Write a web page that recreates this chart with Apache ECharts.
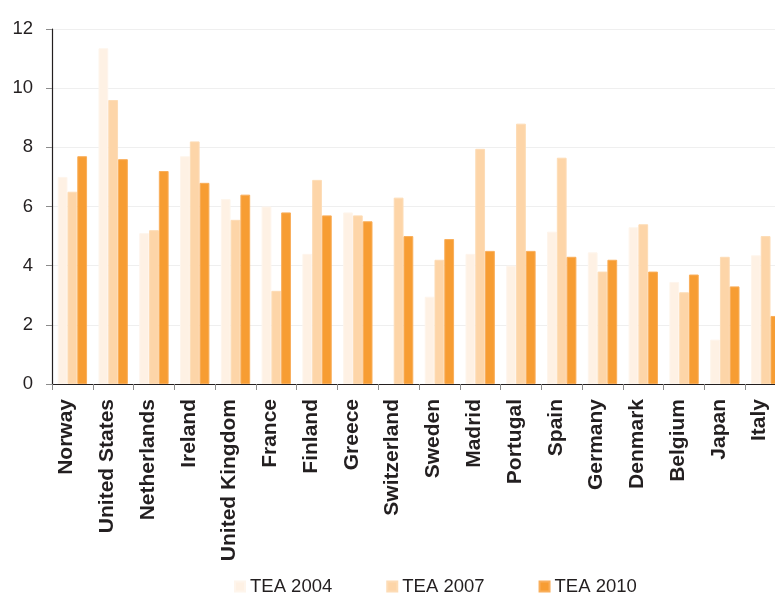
<!DOCTYPE html>
<html>
<head>
<meta charset="utf-8">
<script src="https://cdn.jsdelivr.net/npm/echarts@6/dist/echarts.min.js"></script>
<style>
  html, body { margin: 0; padding: 0; background: #ffffff; }
  #chart { width: 775px; height: 594px; }
</style>
</head>
<body>
<div id="chart"></div>
<script>
// Total early-stage entrepreneurial activity (TEA) rates by country
const countries = ['Norway', 'United States', 'Netherlands', 'Ireland', 'United Kingdom', 'France',
  'Finland', 'Greece', 'Switzerland', 'Sweden', 'Madrid', 'Portugal', 'Spain', 'Germany',
  'Denmark', 'Belgium', 'Japan', 'Italy'];
const tea2004 = [7.0, 11.35, 5.1, 7.7, 6.25, 6.0, 4.4, 5.8, null, 2.95, 4.4, 4.0, 5.15, 4.45, 5.3, 3.45, 1.5, 4.35];
const tea2007 = [6.5, 9.6, 5.2, 8.2, 5.55, 3.15, 6.9, 5.7, 6.3, 4.2, 7.95, 8.8, 7.65, 3.8, 5.4, 3.1, 4.3, 5.0];
const tea2010 = [7.7, 7.6, 7.2, 6.8, 6.4, 5.8, 5.7, 5.5, 5.0, 4.9, 4.5, 4.5, 4.3, 4.2, 3.8, 3.7, 3.3, 2.3];
const yTicks = [0, 2, 4, 6, 8, 10, 12];

const textColor = '#231f20';
const fontFamily = '"Liberation Sans", Arial, Helvetica, sans-serif';

const seriesDefs = [
  { name: 'TEA 2004', data: tea2004, color: '#fef1e4', border: '#fef5ec' },
  { name: 'TEA 2007', data: tea2007, color: '#fdd5a8', border: '#fddcb6' },
  { name: 'TEA 2010', data: tea2010, color: '#f79d33', border: '#f9ae5a' }
];

const chart = echarts.init(document.getElementById('chart'), null, { renderer: 'canvas' });
chart.setOption({
  animation: false,
  backgroundColor: '#ffffff',
  textStyle: { fontFamily: fontFamily, color: textColor },
  // the last category runs past the right edge of the canvas
  grid: { left: 52, top: 29, height: 355, width: 734, containLabel: false, outerBoundsMode: 'none' },
  legend: {
    top: 577,
    left: 234,
    padding: 0,
    icon: 'rect',
    itemWidth: 10,
    itemHeight: 10,
    itemGap: 54,
    textStyle: { fontSize: 18.5, color: textColor, fontFamily: fontFamily },
    data: seriesDefs.map(s => s.name)
  },
  xAxis: {
    type: 'category',
    data: countries,
    boundaryGap: true,
    axisLine: { lineStyle: { color: '#231f20', width: 1.2 } },
    axisTick: { show: true, length: 6, lineStyle: { color: '#8c8c8c' } },
    axisLabel: {
      rotate: 90,
      interval: 0,
      margin: 15,
      fontSize: 21,
      fontWeight: 'bold',
      color: textColor,
      fontFamily: fontFamily,
      verticalAlign: 'bottom',
      lineHeight: 12
    },
    splitLine: { show: false }
  },
  yAxis: {
    type: 'value',
    min: yTicks[0],
    max: yTicks[yTicks.length - 1],
    interval: yTicks[1] - yTicks[0],
    axisLine: { show: true, lineStyle: { color: '#231f20', width: 1.2 } },
    axisTick: { show: true, length: 6, lineStyle: { color: '#8c8c8c' } },
    axisLabel: { fontSize: 18.5, color: textColor, margin: 19, fontFamily: fontFamily },
    splitLine: { show: true, lineStyle: { color: '#efefef', width: 1 } }
  },
  series: seriesDefs.map(s => ({
    name: s.name,
    type: 'bar',
    data: s.data,
    barGap: '0%',
    barCategoryGap: '28%',
    itemStyle: { color: s.color, borderColor: s.border, borderWidth: 1 }
  }))
});
</script>
</body>
</html>
